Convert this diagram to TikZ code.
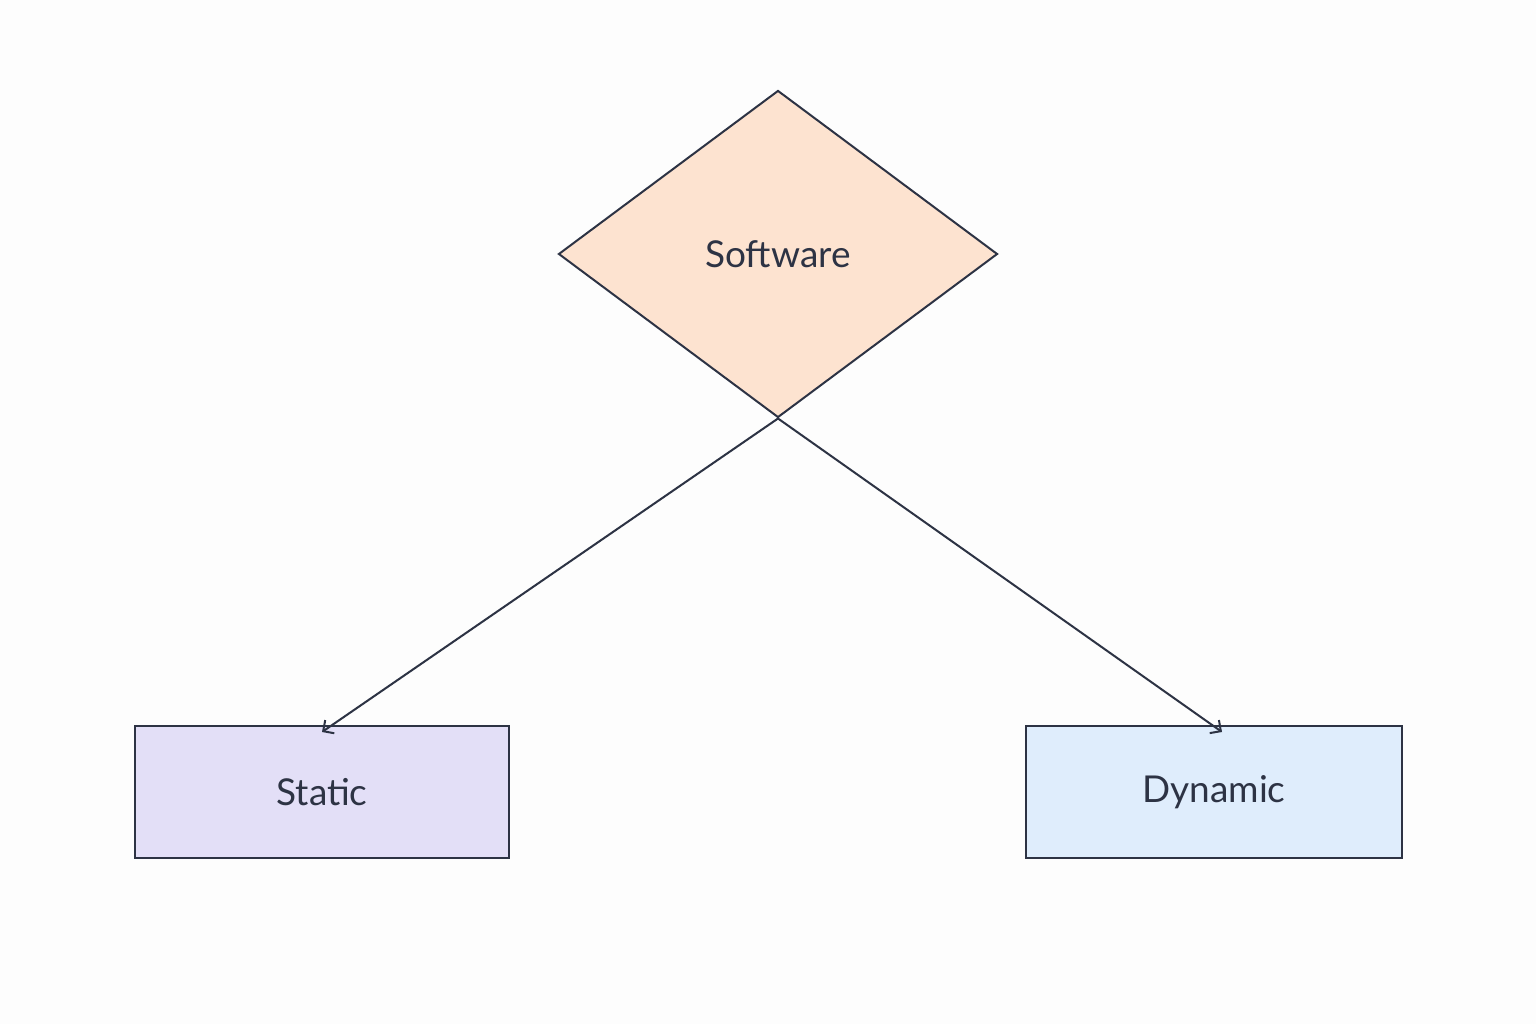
\documentclass[tikz,border=0pt]{standalone}
\usepackage{fontspec}
\setmainfont{Lato}
\usetikzlibrary{shapes.geometric,arrows.meta}
\definecolor{ink}{HTML}{2D3344}
\definecolor{bg}{HTML}{FDFDFD}
\definecolor{dia}{HTML}{FDE3D0}
\definecolor{stat}{HTML}{E3DFF7}
\definecolor{dyn}{HTML}{DFEDFC}
\begin{document}
\begin{tikzpicture}[x=1pt,y=-1pt,
  box/.style={draw=ink,line width=2pt,minimum width=374pt,minimum height=132pt,inner sep=0pt,font=\fontsize{37}{40}\selectfont,text=ink},
  arr/.style={draw=ink,line width=2pt,-{Straight Barb[length=8pt,width=16pt]}}]
\fill[bg] (0,0) rectangle (1536,1024);
\useasboundingbox (0,0) rectangle (1536,1024);
\node[diamond,draw=ink,fill=dia,line width=2pt,minimum width=439pt,minimum height=327pt,inner sep=0pt,font=\fontsize{37}{40}\selectfont,text=ink] (sw) at (778,254) {Software};
\node[box,fill=stat] (st) at (322,792) {Static};
\node[box,fill=dyn,minimum width=376pt] (dy) at (1214,792) {Dynamic};
\draw[arr] (sw.south) -- ([yshift=-7pt]st.north);
\draw[arr] (sw.south) -- ([xshift=8pt,yshift=-7pt]dy.north);
\end{tikzpicture}
\end{document}
